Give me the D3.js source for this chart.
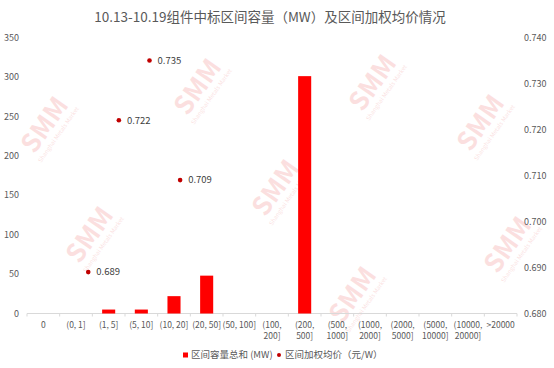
<!DOCTYPE html>
<html>
<head>
<meta charset="utf-8">
<script src="https://cdn.jsdelivr.net/npm/d3@7"></script>
<style>
  body { margin: 0; background: #fff; }
  svg text { font-family: "Noto Sans CJK SC", "Liberation Sans", sans-serif; }
</style>
</head>
<body>
<div id="chart"></div>
<script>
// Chart data
const categories = ["0", "(0, 1]", "(1, 5]", "(5, 10]", "(10, 20]", "(20, 50]", "(50, 100]",
  "(100, 200]", "(200, 500]", "(500, 1000]", "(1000, 2000]", "(2000, 5000]",
  "(5000, 10000]", "(10000, 20000]", ">20000"];
const capacity = [0, 0, 5, 5, 22, 48, 0, 0, 301, 0, 0, 0, 0, 0, 0];
const priceX = [2, 3, 4, 5];
const priceY = [0.689, 0.722, 0.735, 0.709];
const leftTicks = [0, 50, 100, 150, 200, 250, 300, 350];
const rightTicks = [0.68, 0.69, 0.70, 0.71, 0.72, 0.73, 0.74];

const W = 554, H = 368;
const plot = { left: 27, right: 517, top: 37.5, bottom: 313.5 };

const svg = d3.select("#chart")
  .append("svg")
  .attr("width", W)
  .attr("height", H);

svg.append("rect").attr("width", W).attr("height", H).attr("fill", "#fff");

// watermark (kept inside the frame)
const marks = [[52, 130], [205, 92], [97, 240], [283, 193], [360, 300], [380, 88], [488, 128], [515, 250]];
marks.forEach(([x, y]) => {
  const g = svg.append("g")
    .attr("transform", `translate(${x},${y}) rotate(-55)`)
    .attr("opacity", 0.12);
  g.append("text")
    .attr("text-anchor", "middle")
    .attr("font-size", 26)
    .attr("font-weight", "bold")
    .attr("fill", "#e00000")
    .text("SMM");
  g.append("text")
    .attr("text-anchor", "middle")
    .attr("y", 10)
    .attr("font-size", 6)
    .attr("fill", "#e00000")
    .text("Shanghai Metals Market");
});

// title
svg.append("text")
  .attr("x", 270)
  .attr("y", 22)
  .attr("text-anchor", "middle")
  .attr("font-size", 13.5)
  .attr("fill", "#595959")
  .text("10.13-10.19组件中标区间容量（MW）及区间加权均价情况");

// scales
const x = d3.scaleBand()
  .domain(categories)
  .range([plot.left, plot.right])
  .paddingInner(0.6)
  .paddingOuter(0.3);

const xPrice = d3.scaleLinear()
  .domain([0, 16])
  .range([plot.left, plot.right]);

const yLeft = d3.scaleLinear()
  .domain([0, 350])
  .range([plot.bottom, plot.top]);

const yRight = d3.scaleLinear()
  .domain([0.68, 0.74])
  .range([plot.bottom, plot.top]);

// left axis labels
svg.append("g")
  .selectAll("text")
  .data(leftTicks)
  .join("text")
  .attr("x", 19)
  .attr("y", d => yLeft(d))
  .attr("dy", "0.35em")
  .attr("text-anchor", "end")
  .attr("font-size", 9)
  .attr("fill", "#595959")
  .text(d => d);

// right axis labels
svg.append("g")
  .selectAll("text")
  .data(rightTicks)
  .join("text")
  .attr("x", 524)
  .attr("y", d => yRight(d))
  .attr("dy", "0.35em")
  .attr("font-size", 9)
  .attr("fill", "#595959")
  .text(d => d3.format(".3f")(d));

// x axis line and tick marks between categories
const step = x.step();
svg.append("line")
  .attr("x1", plot.left).attr("x2", plot.right)
  .attr("y1", plot.bottom).attr("y2", plot.bottom)
  .attr("stroke", "#d9d9d9");
svg.append("g")
  .selectAll("line")
  .data(d3.range(categories.length + 1))
  .join("line")
  .attr("x1", i => plot.left + i * step)
  .attr("x2", i => plot.left + i * step)
  .attr("y1", plot.bottom)
  .attr("y2", plot.bottom + 3)
  .attr("stroke", "#d9d9d9");

// x labels, wrapped after the comma when long
const xl = svg.append("g")
  .selectAll("text")
  .data(categories)
  .join("text")
  .attr("x", d => x(d) + x.bandwidth() / 2)
  .attr("y", 328)
  .attr("text-anchor", "middle")
  .attr("font-size", 8.5)
  .attr("fill", "#595959");
xl.each(function(d, i) {
  const t = d3.select(this);
  const parts = i >= 7 ? [d.split(" ")[0], d.split(" ")[1]] : [d];
  parts.forEach((p, k) => {
    t.append("tspan")
      .attr("x", x(d) + x.bandwidth() / 2)
      .attr("dy", k === 0 ? 0 : 11)
      .text(p);
  });
});

// bars
svg.append("g")
  .selectAll("rect")
  .data(capacity)
  .join("rect")
  .attr("x", (d, i) => x(categories[i]))
  .attr("y", d => yLeft(d))
  .attr("width", x.bandwidth())
  .attr("height", d => yLeft(0) - yLeft(d))
  .attr("fill", "#ff0000");

// price points and labels
const pts = svg.append("g");
pts.selectAll("circle")
  .data(priceY)
  .join("circle")
  .attr("cx", (d, i) => xPrice(priceX[i]))
  .attr("cy", d => yRight(d))
  .attr("r", 2.3)
  .attr("fill", "#c00000");
pts.selectAll("text")
  .data(priceY)
  .join("text")
  .attr("x", (d, i) => xPrice(priceX[i]) + 8)
  .attr("y", d => yRight(d))
  .attr("dy", "0.35em")
  .attr("font-size", 9.5)
  .attr("fill", "#404040")
  .text(d => d3.format(".3f")(d));

// legend
const legend = svg.append("g").attr("transform", "translate(0,355)");
legend.append("rect")
  .attr("x", 183).attr("y", -2.5)
  .attr("width", 5).attr("height", 5)
  .attr("fill", "#ff0000");
legend.append("text")
  .attr("x", 191).attr("dy", "0.35em")
  .attr("font-size", 9.5).attr("fill", "#595959")
  .text("区间容量总和 (MW)");
legend.append("circle")
  .attr("cx", 279).attr("cy", 0).attr("r", 2)
  .attr("fill", "#c00000");
legend.append("text")
  .attr("x", 285).attr("dy", "0.35em")
  .attr("font-size", 9.5).attr("fill", "#595959")
  .text("区间加权均价（元/W）");
</script>
</body>
</html>
